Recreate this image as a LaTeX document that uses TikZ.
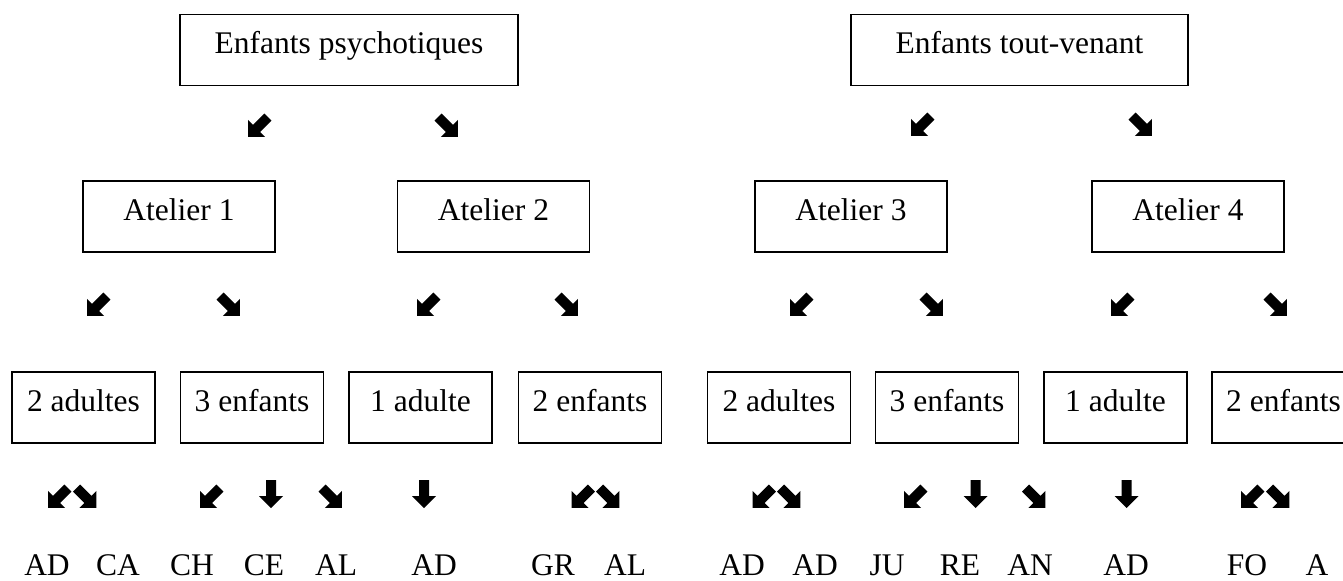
\documentclass[tikz,border=0pt]{standalone}
\usepackage{fontspec}
\setmainfont{Liberation Serif}
\begin{document}
\begin{tikzpicture}[x=0.5pt,y=-0.5pt,
  every node/.style={font=\fontsize{15.75pt}{18pt}\selectfont},
  box/.style={draw,line width=0.6pt,inner sep=0pt,text height=19.5pt,text depth=16pt,minimum width=#1},
  box/.default=71.5pt,
  lbl/.style={anchor=base,inner sep=0pt},
  sw/.style={rotate=-45},
  se/.style={rotate=45},
  pics/fatarrow/.style={code={\fill[black] (-5,-14) -- (5,-14) -- (5,2) -- (12,2) -- (0,14) -- (-12,2) -- (-5,2) -- cycle;}}]
\useasboundingbox (0,0) rectangle (1343,580);
% top row
\node[box=169pt] (psy) at (349,50) {Enfants psychotiques};
\node[box=168.5pt] (tout) at (1019.5,50) {Enfants tout-venant};
% ateliers
\node[box=96pt] (at1) at (179,216.5) {Atelier 1};
\node[box=96pt] (at2) at (493.5,216.5) {Atelier 2};
\node[box=96pt] (at3) at (851,216.5) {Atelier 3};
\node[box=96pt] (at4) at (1188,216.5) {Atelier 4};
% groupes
\node[box] (ad1) at (83.5,407.5) {2 adultes};
\node[box] (en1) at (252,407.5) {3 enfants};
\node[box] (un1) at (420.5,407.5) {1 adulte};
\node[box] (de1) at (590,407.5) {2 enfants};
\node[box] (ad2) at (779,407.5) {2 adultes};
\node[box] (en2) at (947,407.5) {3 enfants};
\node[box] (un2) at (1115.5,407.5) {1 adulte};
\node[box] (de2) at (1283.5,407.5) {2 enfants};
% initiales
\foreach \x/\t [count=\i] in {47/AD,118/CA,192/CH,264/CE,336/AL,434/AD,553/GR,625/AL,
  742/AD,815/AD,887/JU,960/RE,1030/AN,1126/AD,1247/FO,1317/A}
  \node[lbl] (in\i) at (\x,575) {\t};
% fleches
\foreach \x/\y in {258/127,921/126,97/306,427/306,800/306,1121/306,
  58/498,210/498,581.5/498,762.5/498,914/498,1251/498}
  \pic[sw] at (\x,\y) {fatarrow};
\foreach \x/\y in {448/127,1142/126,230/306,568/306,933/306,1277/306,
  86.5/498,332/498,609.5/498,790.5/498,1035.5/498,1279.5/498}
  \pic[se] at (\x,\y) {fatarrow};
\foreach \x in {271,424,975.5,1126.5}
  \pic at (\x,494) {fatarrow};
\end{tikzpicture}
\end{document}
